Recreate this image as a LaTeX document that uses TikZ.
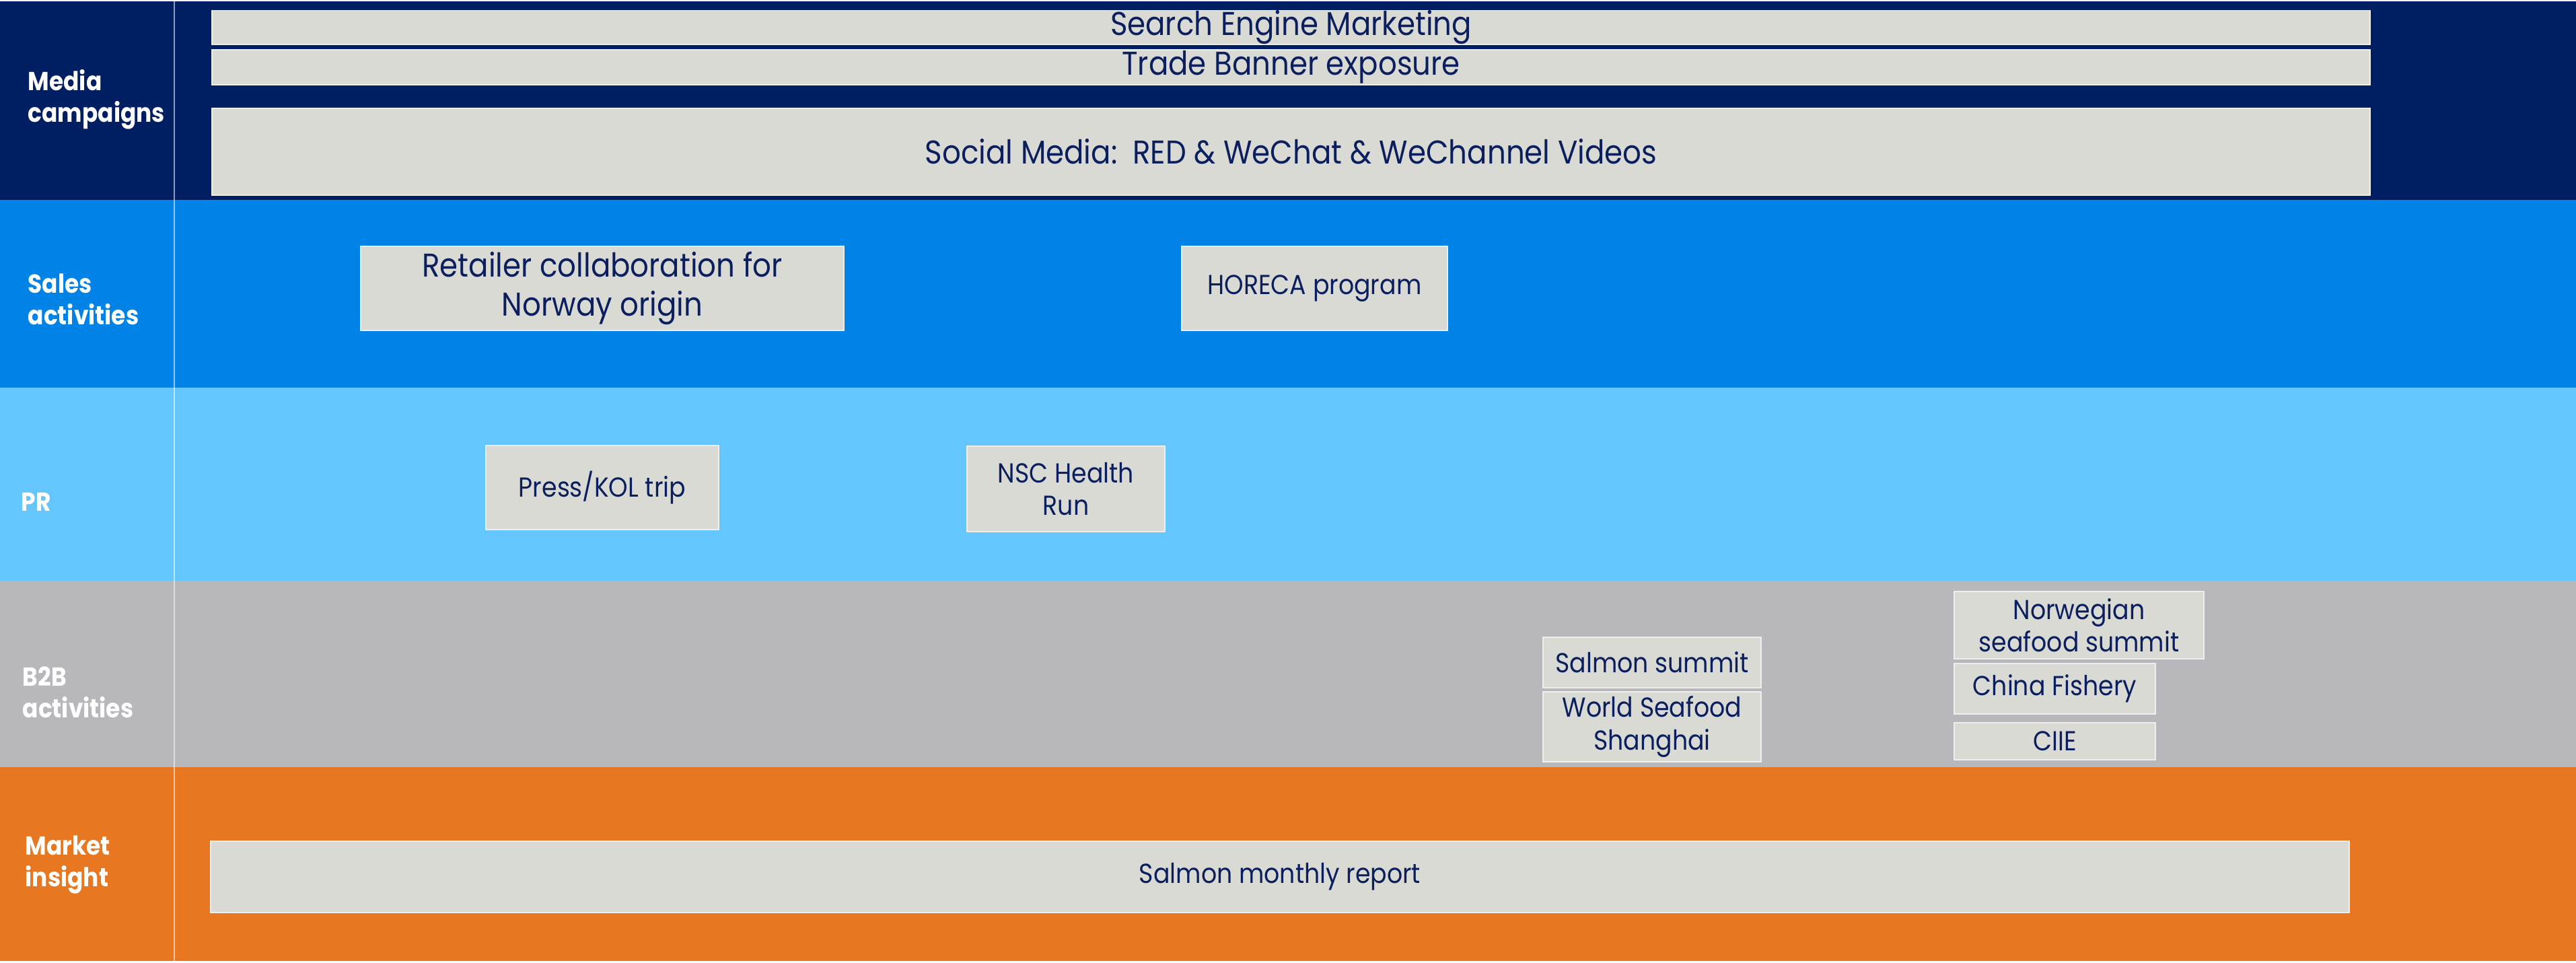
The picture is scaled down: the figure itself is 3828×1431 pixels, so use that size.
\documentclass[tikz,border=0pt]{standalone}
\usepackage{fontspec}
\setmainfont{Poppins}
\newfontfamily\boxfont[FakeStretch=0.89]{Poppins}
\newfontfamily\labfont[FakeStretch=0.89]{Poppins}
\definecolor{navy}{HTML}{001E62}
\definecolor{salesblue}{HTML}{0082E6}
\definecolor{prblue}{HTML}{64C6FD}
\definecolor{bgray}{HTML}{B8B8BC}
\definecolor{orng}{HTML}{E87722}
\definecolor{boxgray}{HTML}{DADAD5}
\definecolor{navytext}{HTML}{0B1F5E}
\tikzset{
  actbox/.style={fill=boxgray, draw=white!55!boxgray, line width=0.4pt, inner sep=0pt,
    text=navytext, align=center},
  bigbox/.style={actbox, font=\boxfont\fontsize{13.9}{16.5}\selectfont},
  smallbox/.style={actbox, font=\boxfont\fontsize{11.6}{13.7}\selectfont},
  lanelabel/.style={anchor=west, inner sep=0pt, text=white, align=left,
    font=\labfont\bfseries\fontsize{11}{13.4}\selectfont},
}
% #1 style, #2 name, #3 x1, #4 y1, #5 x2, #6 y2, #7 text
\newcommand\abox[7]{\node[#1, minimum width={(#5-#3)*0.01cm}, minimum height={(#6-#4)*0.01cm}]
  (#2) at ({(#3+#5)/2},{(#4+#6)/2}) {#7};}
\begin{document}
\begin{tikzpicture}[x=0.01cm, y=-0.01cm]
\useasboundingbox (0,0) rectangle (3828,1431);
\fill[white] (0,0) rectangle (3828,1431);
% bands
\fill[navy] (0,2) rectangle (3828,297);
\fill[salesblue] (0,297) rectangle (3828,576);
\fill[prblue] (0,576) rectangle (3828,863);
\fill[bgray] (0,863) rectangle (3828,1140);
\fill[orng] (0,1140) rectangle (3828,1428);
\draw[white, opacity=0.55, line width=0.5pt] (259,2) -- (259,1428);
% lane labels
\node[lanelabel] (lmedia) at (41,148) {Media\\campaigns};
\node[lanelabel] (lsales) at (41,445) {Sales\\activities};
\node[lanelabel] (lpr) at (31,746) {PR};
\node[lanelabel] (lbtb) at (33,1029) {B2B\\activities};
\node[lanelabel] (lmkt) at (37,1285) {Market\\insight};
% media campaigns
\abox{bigbox}{sem}{315}{17}{3522}{65}{Search Engine Marketing}
\abox{bigbox}{tbe}{315}{74}{3522}{126}{Trade Banner exposure}
\abox{bigbox}{soc}{315}{161}{3522}{290}{Social Media:\ \ RED \& WeChat \& WeChannel Videos}
% sales
\abox{bigbox}{ret}{536}{366}{1254}{491}{Retailer collaboration for\\Norway origin}
\abox{smallbox}{hor}{1756}{366}{2151}{491}{HORECA program}
% PR
\abox{smallbox}{prs}{722}{662}{1068}{787}{Press/KOL trip}
\abox{smallbox}{nsc}{1437}{663}{1731}{790}{NSC Health\\Run}
% B2B
\abox{smallbox}{sal}{2293}{947}{2617}{1022}{Salmon summit}
\abox{smallbox}{wsf}{2293}{1028}{2617}{1132}{World Seafood\\Shanghai}
\abox{smallbox}{nor}{2904}{879}{3275}{979}{Norwegian\\seafood summit}
\abox{smallbox}{chf}{2904}{986}{3203}{1061}{China Fishery}
\abox{smallbox}{ciie}{2904}{1074}{3203}{1129}{CIIE}
% market insight
\abox{smallbox}{smr}{313}{1250}{3491}{1356}{Salmon monthly report}
\end{tikzpicture}
\end{document}
